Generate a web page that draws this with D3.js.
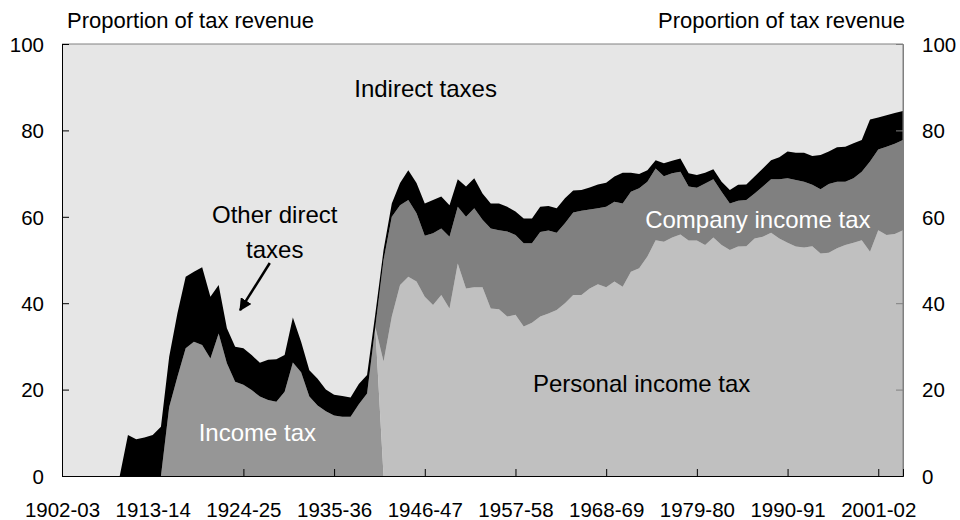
<!DOCTYPE html>
<html>
<head>
<meta charset="utf-8">
<script src="https://cdn.jsdelivr.net/npm/d3@7"></script>
<style>
  body { margin: 0; background: #fff; }
  svg text { font-family: "Liberation Sans", Arial, sans-serif; }
</style>
</head>
<body>
<div id="chart"></div>
<script>
// Années de début de chaque exercice (1902-03 ... 2004-05)
const anneesDebut = d3.range(1902, 2005);
const etiquettesAnnees = ["1902-03", "1913-14", "1924-25", "1935-36", "1946-47",
  "1957-58", "1968-69", "1979-80", "1990-91", "2001-02"];
const ticksAnnees = [1902, 1913, 1924, 1935, 1946, 1957, 1968, 1979, 1990, 2001];
const ticksY = [0, 20, 40, 60, 80, 100];

// Séries (part des recettes fiscales, %), une valeur par exercice
const impotRevenu = [
  0, 0, 0, 0, 0, 0, 0, 0, 0, 0,
  0, 0, 0, 16, 23, 29.6, 31.1, 30.3, 27.2, 33,
  26.1, 21.8, 21.1, 19.9, 18.4, 17.6, 17.2, 19.5, 26.3, 24,
  18.4, 16.3, 15, 14, 13.7, 13.7, 16.6, 19.1, 34.5, 0,
  0, 0, 0, 0, 0, 0, 0, 0, 0, 0,
  0, 0, 0, 0, 0, 0, 0, 0, 0, 0,
  0, 0, 0, 0, 0, 0, 0, 0, 0, 0,
  0, 0, 0, 0, 0, 0, 0, 0, 0, 0,
  0, 0, 0, 0, 0, 0, 0, 0, 0, 0,
  0, 0, 0, 0, 0, 0, 0, 0, 0, 0,
  0, 0, 0
];
const impotPersonnes = [
  0, 0, 0, 0, 0, 0, 0, 0, 0, 0,
  0, 0, 0, 0, 0, 0, 0, 0, 0, 0,
  0, 0, 0, 0, 0, 0, 0, 0, 0, 0,
  0, 0, 0, 0, 0, 0, 0, 0, 0, 26.5,
  36.9, 44.2, 46.1, 45, 41.5, 39.6, 41.9, 38.8, 49.2, 43.4,
  43.7, 43.7, 38.8, 38.6, 36.9, 37.3, 34.6, 35.5, 36.9, 37.6,
  38.4, 40, 41.9, 41.9, 43.4, 44.4, 43.7, 45, 43.8, 47.3,
  48.1, 50.8, 54.6, 54.2, 55.2, 55.9, 54.5, 54.5, 53.5, 55.2,
  53.5, 52.3, 53.1, 53.2, 55, 55.4, 56.3, 55, 54, 53.1,
  52.9, 53.2, 51.5, 51.7, 52.7, 53.5, 54, 54.6, 51.9, 56.9,
  55.8, 56, 56.9
];
const impotSocietes = [
  0, 0, 0, 0, 0, 0, 0, 0, 0, 0,
  0, 0, 0, 0, 0, 0, 0, 0, 0, 0,
  0, 0, 0, 0, 0, 0, 0, 0, 0, 0,
  0, 0, 0, 0, 0, 0, 0, 0, 0, 23.5,
  23.1, 18.5, 17.8, 15.8, 14.1, 16.6, 15.4, 16.6, 13.1, 16.6,
  18.3, 15.6, 18.5, 18.3, 19.7, 18.5, 19.3, 18.4, 19.6, 19.2,
  17.9, 18.5, 19.1, 19.5, 18.3, 17.6, 18.6, 18.5, 19.3, 18.5,
  18.5, 17.3, 16.6, 15.2, 14.9, 14.5, 12.5, 12.2, 14.2, 13.5,
  12.3, 10.8, 10.6, 10.7, 10.4, 11.6, 12.4, 13.7, 14.9, 15.4,
  15.2, 14.2, 14.9, 15.9, 15.4, 14.6, 14.9, 15.8, 20.9, 18.7,
  20.4, 20.9, 20.9
];
const autresDirects = [
  0, 0, 0, 0, 0, 0, 0, 0, 9.5, 8.5,
  8.9, 9.5, 11.4, 11.6, 14.7, 16.5, 16.2, 18, 14.3, 11.2,
  8.1, 8.1, 8.5, 8.1, 7.8, 9.3, 9.8, 8.5, 10.4, 7.1,
  6.1, 6.2, 5, 4.8, 4.8, 4.5, 4.7, 4.3, 3, 2.3,
  3.1, 5.1, 6.9, 7, 7.5, 7.7, 7.4, 7.3, 6.4, 7,
  6.9, 6.1, 5.8, 6.2, 5.7, 5.4, 5.7, 5.7, 5.8, 5.7,
  5.7, 5.8, 5.1, 4.8, 5.1, 5.5, 5.6, 5.8, 7.1, 4.4,
  3.3, 2.7, 1.9, 3, 2.9, 3.1, 3.1, 3, 2.5, 2.3,
  2.3, 3.1, 3.7, 3.6, 3.9, 4.2, 4.4, 5.1, 6.2, 6.3,
  6.7, 6.7, 7.9, 7.5, 8, 8.1, 8.1, 7.4, 9.7, 7.4,
  7.3, 7.1, 6.7
];

const series = ["impotRevenu", "impotPersonnes", "impotSocietes", "autresDirects"];
const couleurs = {
  impotRevenu: "#969696",
  impotPersonnes: "#c0c0c0",
  impotSocietes: "#808080",
  autresDirects: "#000000"
};

// Dimensions
const largeur = 960, hauteur = 520;
const marge = {haut: 44, droite: 57, bas: 44, gauche: 62};

const tableau = anneesDebut.map((a, i) => ({
  annee: a,
  impotRevenu: impotRevenu[i],
  impotPersonnes: impotPersonnes[i],
  impotSocietes: impotSocietes[i],
  autresDirects: autresDirects[i]
}));

const svg = d3.select("#chart").append("svg")
  .attr("width", largeur)
  .attr("height", hauteur);

const x = d3.scaleLinear()
  .domain([1902, 2004])
  .range([marge.gauche, largeur - marge.droite]);
const y = d3.scaleLinear()
  .domain([0, 100])
  .range([hauteur - marge.bas, marge.haut]);

// Fond = impôts indirects (le reste jusqu'à 100)
svg.append("rect")
  .attr("x", x(1902))
  .attr("y", y(100))
  .attr("width", x(2004) - x(1902))
  .attr("height", y(0) - y(100))
  .attr("fill", "#e6e6e6");

const pile = d3.stack().keys(series)(tableau);
const aire = d3.area()
  .x(d => x(d.data.annee))
  .y0(d => y(d[0]))
  .y1(d => y(d[1]));

svg.append("g")
  .selectAll("path")
  .data(pile)
  .join("path")
  .attr("fill", d => couleurs[d.key])
  .attr("d", aire);

// Cadre
svg.append("line")
  .attr("x1", x(1902)).attr("x2", x(2004))
  .attr("y1", y(100)).attr("y2", y(100))
  .attr("stroke", "#808080");
svg.append("line")
  .attr("x1", x(2004)).attr("x2", x(2004))
  .attr("y1", y(100)).attr("y2", y(0))
  .attr("stroke", "#808080");

// Axes
const axeGauche = svg.append("g")
  .attr("transform", `translate(${x(1902)},0)`)
  .call(d3.axisLeft(y).tickValues(ticksY).tickSize(-7).tickPadding(18));
const axeDroit = svg.append("g")
  .attr("transform", `translate(${x(2004)},0)`)
  .call(d3.axisRight(y).tickValues(ticksY).tickSize(-7).tickPadding(19));
const axeBas = svg.append("g")
  .attr("transform", `translate(0,${y(0)})`)
  .call(d3.axisBottom(x).tickValues(ticksAnnees)
    .tickFormat((d, i) => etiquettesAnnees[i])
    .tickSize(-7).tickPadding(26));

[axeGauche, axeDroit, axeBas].forEach(a => {
  a.selectAll("text").attr("font-size", "20.5px").attr("fill", "#000")
    .style("font-family", "'Liberation Sans', Arial, sans-serif");
  a.selectAll("line").attr("stroke", "#000");
});
axeDroit.select(".domain").attr("stroke", "#808080");
axeDroit.selectAll("line").attr("stroke", "#808080");
axeGauche.select(".domain").attr("stroke", "#000");
axeBas.select(".domain").attr("stroke", "#000");
axeGauche.selectAll("text").attr("dy", "0.36em");
axeDroit.selectAll("text").attr("dy", "0.36em");

// Titres des axes
svg.append("text")
  .attr("x", 67).attr("y", 28)
  .attr("font-size", "22px")
  .text("Proportion of tax revenue");
svg.append("text")
  .attr("x", 905).attr("y", 28)
  .attr("text-anchor", "end")
  .attr("font-size", "22px")
  .text("Proportion of tax revenue");

// Annotations
const annotations = [
  {texte: "Indirect taxes", annee: 1946.1, valeur: 87.7, couleur: "#000"},
  {texte: "Other direct", annee: 1927.8, valeur: 58.5, couleur: "#000"},
  {texte: "taxes", annee: 1927.8, valeur: 50.5, couleur: "#000"},
  {texte: "Income tax", annee: 1925.7, valeur: 8.1, couleur: "#fff"},
  {texte: "Company income tax", annee: 1986.4, valeur: 57.4, couleur: "#fff"},
  {texte: "Personal income tax", annee: 1972.3, valeur: 19.4, couleur: "#000"}
];
svg.append("g")
  .selectAll("text")
  .data(annotations)
  .join("text")
  .attr("x", d => x(d.annee))
  .attr("y", d => y(d.valeur))
  .attr("text-anchor", "middle")
  .attr("font-size", "24px")
  .attr("fill", d => d.couleur)
  .text(d => d.texte);

// Flèche vers les autres impôts directs
svg.append("defs").append("marker")
  .attr("id", "fleche")
  .attr("viewBox", "0 0 10 10")
  .attr("refX", 9).attr("refY", 5)
  .attr("markerWidth", 5).attr("markerHeight", 5)
  .attr("orient", "auto")
  .append("path")
  .attr("d", "M0,0 L10,5 L0,10 Z")
  .attr("fill", "#000");
svg.append("line")
  .attr("x1", x(1927.2)).attr("y1", y(49.3))
  .attr("x2", x(1923.6)).attr("y2", y(38.4))
  .attr("stroke", "#000")
  .attr("stroke-width", 2.5)
  .attr("marker-end", "url(#fleche)");
</script>
</body>
</html>
